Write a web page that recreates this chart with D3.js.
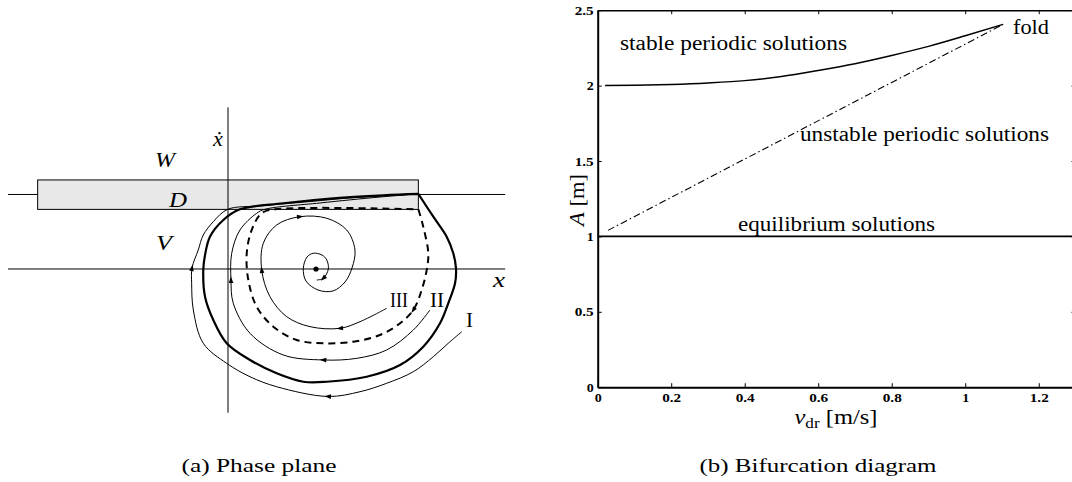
<!DOCTYPE html>
<html><head><meta charset="utf-8">
<script src="https://cdn.jsdelivr.net/npm/d3@7"></script>
<style>
body{margin:0;background:#fff}
svg{display:block}
text{font-family:"Liberation Serif","DejaVu Serif",serif;fill:#000}
</style>
</head><body>
<svg id="c" width="1072" height="482"></svg>
<script>
// ===== Panel (b): bifurcation diagram data =====
const stableV = [0.02, 0.1, 0.2, 0.3, 0.4, 0.5, 0.6, 0.7, 0.8, 0.9, 1.0, 1.103];
const stableA = [2.0, 2.002, 2.008, 2.018, 2.033, 2.06, 2.10, 2.145, 2.20, 2.26, 2.33, 2.406];
const unstableV = [0.028, 1.103];
const unstableA = [1.04, 2.406];
const equilV = [0, 1.3];
const equilA = [1, 1];
const xTicks = [0, 0.2, 0.4, 0.6, 0.8, 1, 1.2];
const xTickLabels = ["0", "0.2", "0.4", "0.6", "0.8", "1", "1.2"];
const yTicks = [0, 0.5, 1, 1.5, 2, 2.5];
const yTickLabels = ["0", "0.5", "1", "1.5", "2", "2.5"];

// ===== Panel (a): phase plane data (x, x-dot) =====
const boxX = [-2.163, 2.163];
const boxXd = [0.80, 1.195];
const stickXd = 1;
const equilX = 1, equilXd = 0;

const cIx  = [2.656, 2.503, 2.333, 2.106, 1.803, 1.5, 1.136, 0.553, 0.25, -0.015, -0.281, -0.394, -0.413, -0.409, -0.338, -0.281, -0.167, -0.003, 0.364, 0.818, 1.386, 2.163];
const cIxd = [-0.842, -0.997, -1.177, -1.379, -1.534, -1.647, -1.711, -1.580, -1.446, -1.266, -0.997, -0.550, -0.192, 0.013, 0.255, 0.456, 0.635, 0.801, 0.846, 0.893, 0.953, 1.007];

const cLx  = [2.163, 2.333, 2.485, 2.560, 2.591, 2.580, 2.503, 2.409, 2.219, 1.955, 1.576, 1.122, 0.856, 0.553, 0.25, -0.015, -0.167, -0.261, -0.281, -0.261, -0.205, -0.053, 0.136, 0.628, 1.197, 1.765, 2.163];
const cLxd = [1.007, 0.702, 0.434, 0.211, 0.009, -0.192, -0.460, -0.729, -1.043, -1.289, -1.446, -1.513, -1.513, -1.400, -1.221, -0.997, -0.685, -0.372, -0.013, 0.188, 0.434, 0.658, 0.801, 0.882, 0.949, 0.989, 1.007];

const cIIx  = [2.295, 2.106, 1.803, 1.463, 1.083, 0.628, 0.25, 0.060, 0.034, 0.042, 0.136, 0.326, 0.420, 1.045, 1.727, 2.163];
const cIIxd = [-0.550, -0.819, -1.087, -1.199, -1.221, -1.154, -0.863, -0.460, -0.148, 0.211, 0.523, 0.748, 0.801, 0.886, 0.966, 1.007];

const cUx  = [2.163, 2.219, 2.276, 2.258, 2.201, 2.106, 1.955, 1.727, 1.424, 1.083, 0.781, 0.515, 0.326, 0.231, 0.213, 0.269, 0.383, 0.534, 2.163];
const cUxd = [0.801, 0.568, 0.211, -0.013, -0.282, -0.550, -0.729, -0.886, -0.976, -0.997, -0.953, -0.774, -0.506, -0.148, 0.211, 0.523, 0.748, 0.801, 0.801];

const cIIIx  = [1.803, 1.5, 1.273, 0.932, 0.667, 0.477, 0.383, 0.401, 0.553, 0.818, 1.122, 1.349, 1.443, 1.409, 1.330, 1.193, 1.023, 0.886, 0.856, 0.898, 0.969, 1.068, 1.122, 1.140, 1.083, 1.008];
const cIIIxd = [-0.528, -0.707, -0.796, -0.774, -0.640, -0.372, -0.013, 0.345, 0.591, 0.702, 0.681, 0.523, 0.255, 0.013, -0.174, -0.295, -0.282, -0.161, 0.009, 0.161, 0.211, 0.188, 0.121, 0, -0.125, -0.148];

const svg = d3.select("#c");

// ---------- Panel (a) ----------
const px = d3.scaleLinear().domain([-2.5, 3.15]).range([8, 505.2]);
const py = d3.scaleLinear().domain([-1.93, 2.17]).range([412.8, 107.3]);
const ga = svg.append("g");

// stick line (x-dot = v_dr)
ga.append("line").attr("x1", px(-2.5)).attr("x2", px(3.15)).attr("y1", py(stickXd)).attr("y2", py(stickXd))
  .attr("stroke", "#000").attr("stroke-width", 1);
// shaded band
ga.append("rect").attr("x", px(boxX[0])).attr("y", py(boxXd[1]))
  .attr("width", px(boxX[1]) - px(boxX[0])).attr("height", py(boxXd[0]) - py(boxXd[1]))
  .attr("fill", "#e8e8e8").attr("stroke", "#000").attr("stroke-width", 1);
// axes
ga.append("line").attr("x1", px(-2.5)).attr("x2", px(3.15)).attr("y1", py(0)).attr("y2", py(0))
  .attr("stroke", "#000").attr("stroke-width", 1);
ga.append("line").attr("x1", px(0)).attr("x2", px(0)).attr("y1", py(2.17)).attr("y2", py(-1.93))
  .attr("stroke", "#000").attr("stroke-width", 1);

const lineGen = d3.line().x(d => px(d[0])).y(d => py(d[1])).curve(d3.curveCatmullRom.alpha(0.5));
const zipP = (a, b) => a.map((v, i) => [v, b[i]]);
const curves = [
  {x: cIx, y: cIxd, w: 1, dash: null, arrows: [6, 13]},
  {x: cLx, y: cLxd, w: 2.2, dash: null, arrows: []},
  {x: cIIx, y: cIIxd, w: 1, dash: null, arrows: [4, 8]},
  {x: cUx, y: cUxd, w: 2, dash: "7,5", arrows: [5]},
  {x: cIIIx, y: cIIIxd, w: 1, dash: null, arrows: [2, 6, 9, 24]}
];
curves.forEach(c => {
  const pts = zipP(c.x, c.y);
  ga.append("path").attr("d", lineGen(pts)).attr("fill", "none").attr("stroke", "#000")
    .attr("stroke-width", c.w).attr("stroke-dasharray", c.dash);
  c.arrows.forEach(i => {
    const p0 = pts[Math.max(i - 1, 0)], p1 = pts[Math.min(i + 1, pts.length - 1)];
    const ang = Math.atan2(py(p1[1]) - py(p0[1]), px(p1[0]) - px(p0[0])) * 180 / Math.PI;
    ga.append("path").attr("d", "M3.5,0L-3,-2.3L-3,2.3Z").attr("fill", "#000")
      .attr("transform", `translate(${px(pts[i][0])},${py(pts[i][1])}) rotate(${ang})`);
  });
});
ga.append("circle").attr("cx", px(equilX)).attr("cy", py(equilXd)).attr("r", 2.6).attr("fill", "#000");

// labels panel (a)
const ital = (t, x, y, fs, tl) => ga.append("text").attr("x", x).attr("y", y).attr("font-size", fs)
  .attr("font-style", "italic").attr("textLength", tl).attr("lengthAdjust", "spacingAndGlyphs").text(t);
ital("W", 155, 167, 22, 20);
ital("D", 169, 207, 22, 18);
ital("V", 156, 250, 22, 16);
ital("x", 493, 287, 22, 12);
ga.append("text").attr("x", 213).attr("y", 146).attr("font-size", 22).attr("font-style", "italic").text("ẋ");
const rom = (t, x, y, tl) => ga.append("text").attr("x", x).attr("y", y).attr("font-size", 20)
  .attr("textLength", tl).attr("lengthAdjust", "spacingAndGlyphs").text(t);
rom("III", 390, 307, 18);
rom("II", 430, 307, 14);
rom("I", 466, 327, 7);
ga.append("text").attr("x", 259).attr("y", 472).attr("font-size", 18).attr("text-anchor", "middle")
  .attr("textLength", 155).attr("lengthAdjust", "spacingAndGlyphs").text("(a) Phase plane");

// ---------- Panel (b) ----------
const x = d3.scaleLinear().domain([0, 1.3]).range([597.7, 1075.5]);
const y = d3.scaleLinear().domain([0, 2.5]).range([387.2, 10.2]);
const gb = svg.append("g");

const styleAxis = (g, w) => {
  g.select(".domain").attr("stroke", "#000").attr("stroke-width", w);
  g.selectAll(".tick line").attr("stroke", "#000").attr("stroke-width", 1);
  g.selectAll(".tick text").attr("font-family", "Liberation Serif, serif").attr("font-weight", "bold")
    .attr("font-size", 13).attr("fill", "#000")
    .attr("textLength", function () { return this.textContent.length > 1 ? 19 : 7; })
    .attr("lengthAdjust", "spacingAndGlyphs");
};
const gx = gb.append("g").attr("transform", `translate(0,${y(0)})`)
  .call(d3.axisBottom(x).tickValues(xTicks).tickFormat((d, i) => xTickLabels[i]).tickSize(-4).tickSizeOuter(0).tickPadding(6));
styleAxis(gx, 2);
const gy = gb.append("g").attr("transform", `translate(${x(0)},0)`)
  .call(d3.axisLeft(y).tickValues(yTicks).tickFormat((d, i) => yTickLabels[i]).tickSize(-4).tickSizeOuter(0).tickPadding(4));
styleAxis(gy, 2);
const gt = gb.append("g").attr("transform", `translate(0,${y(2.5)})`)
  .call(d3.axisTop(x).tickValues(xTicks).tickFormat("").tickSize(-4).tickSizeOuter(0));
styleAxis(gt, 1.5);
const gr = gb.append("g").attr("transform", `translate(${x(1.3)},0)`)
  .call(d3.axisRight(y).tickValues(yTicks).tickFormat("").tickSize(-4).tickSizeOuter(0));
styleAxis(gr, 1.5);

const bl = d3.line().x(d => x(d[0])).y(d => y(d[1]));
gb.append("path").attr("d", bl.curve(d3.curveMonotoneX)(zipP(stableV, stableA)))
  .attr("fill", "none").attr("stroke", "#000").attr("stroke-width", 1.5);
gb.append("path").attr("d", d3.line().x(d => x(d[0])).y(d => y(d[1]))(zipP(unstableV, unstableA)))
  .attr("fill", "none").attr("stroke", "#000").attr("stroke-width", 1.1).attr("stroke-dasharray", "7,3,1.5,3");
gb.append("path").attr("d", d3.line().x(d => x(d[0])).y(d => y(d[1]))(zipP(equilV, equilA)))
  .attr("fill", "none").attr("stroke", "#000").attr("stroke-width", 1.6);

const lab = (t, xx, yy, fs, tl) => gb.append("text").attr("x", xx).attr("y", yy).attr("font-size", fs)
  .attr("textLength", tl).attr("lengthAdjust", "spacingAndGlyphs").text(t);
lab("stable periodic solutions", 620, 50, 20, 227);
lab("fold", 1013, 34, 20, 36);
lab("unstable periodic solutions", 800, 141, 20, 249);
lab("equilibrium solutions", 738, 231, 20, 197);

const xl = gb.append("text").attr("x", 794.5).attr("y", 424).attr("font-size", 20)
  .attr("textLength", 83).attr("lengthAdjust", "spacingAndGlyphs");
xl.append("tspan").attr("font-style", "italic").text("v");
xl.append("tspan").attr("dy", 4).attr("font-size", 14).text("dr");
xl.append("tspan").attr("dy", -4).text(" [m/s]");

const yl = gb.append("text").attr("transform", "translate(584,200) rotate(-90)").attr("text-anchor", "middle")
  .attr("font-size", 20).attr("textLength", 52).attr("lengthAdjust", "spacingAndGlyphs");
yl.append("tspan").attr("font-style", "italic").text("A");
yl.append("tspan").text(" [m]");

gb.append("text").attr("x", 818).attr("y", 472).attr("font-size", 18).attr("text-anchor", "middle")
  .attr("textLength", 237).attr("lengthAdjust", "spacingAndGlyphs").text("(b) Bifurcation diagram");
</script>
</body></html>
